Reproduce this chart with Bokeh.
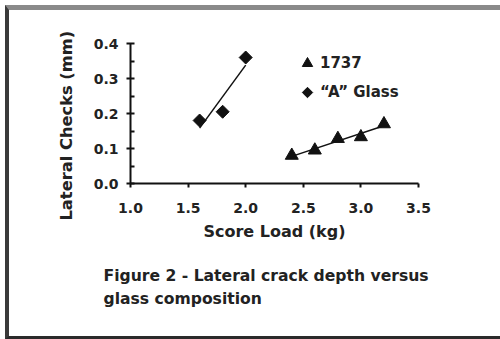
import numpy as np
from bokeh.plotting import figure
from bokeh.layouts import column
from bokeh.models import (FixedTicker, NumeralTickFormatter, Range1d, Title,
                          Legend, LegendItem)
from bokeh.embed import file_html
from bokeh.resources import INLINE

# ---- data ----
a_load = [1.6, 1.8, 2.0]
a_checks = [0.18, 0.205, 0.36]
g1737_load = [2.4, 2.6, 2.8, 3.0, 3.2]
g1737_checks = [0.08, 0.095, 0.128, 0.133, 0.17]
x_ticks = [1.0, 1.5, 2.0, 2.5, 3.0, 3.5]
y_ticks = [0.0, 0.1, 0.2, 0.3, 0.4]
y_minor = [0.05, 0.15, 0.25, 0.35]
series_names = ["1737", "\u201cA\u201d Glass"]
x_title = "Score Load (kg)"
y_title = "Lateral Checks (mm)"
caption = ["Figure 2 - Lateral crack depth versus", "glass composition"]

FONT = "DejaVu Sans"
TXT = "#222222"
INK = "#111111"

fig = figure(width=491, height=326, output_backend="svg", toolbar_location=None,
             x_range=Range1d(1.0, 3.5), y_range=Range1d(0.0, 0.4),
             min_border_left=121, min_border_right=82,
             min_border_top=33, min_border_bottom=153)
fig.outline_line_color = None
fig.grid.visible = False

# axes
fig.xaxis.ticker = FixedTicker(ticks=x_ticks)
fig.yaxis.ticker = FixedTicker(ticks=y_ticks, minor_ticks=y_minor)
fig.xaxis.formatter = NumeralTickFormatter(format="0.0")
fig.yaxis.formatter = NumeralTickFormatter(format="0.0")
for ax in (fig.xaxis, fig.yaxis):
    ax.axis_line_width = 2
    ax.axis_line_color = INK
    ax.major_tick_line_width = 2
    ax.major_tick_line_color = INK
    ax.minor_tick_line_width = 2
    ax.minor_tick_line_color = INK
    ax.major_label_text_font = FONT
    ax.major_label_text_font_style = "bold"
    ax.major_label_text_font_size = "14px"
    ax.major_label_text_color = TXT
    ax.axis_label_text_font = FONT
    ax.axis_label_text_font_style = "bold"
    ax.axis_label_text_font_size = "16px"
    ax.axis_label_text_color = TXT
fig.xaxis.major_tick_out = 4
fig.xaxis.major_tick_in = 0
fig.xaxis.minor_tick_out = 0
fig.xaxis.minor_tick_in = 0
fig.xaxis.major_label_standoff = 15
fig.xaxis.axis_label = x_title
fig.xaxis.axis_label_standoff = 6
fig.yaxis.major_tick_out = 4
fig.yaxis.major_tick_in = 4
fig.yaxis.minor_tick_out = 0
fig.yaxis.minor_tick_in = 4
fig.yaxis.major_label_standoff = 8

# y title, starting below the frame bottom like the reference
fig.add_layout(Title(text=y_title, align="left", offset=-37, standoff=30,
                     text_font=FONT, text_font_style="bold",
                     text_font_size="16.3px", text_color=TXT), "left")

# trend lines (least-squares fits)
for xs, ys in ((a_load, a_checks), (g1737_load, g1737_checks)):
    k, b = np.polyfit(xs, ys, 1)
    fx = [min(xs), max(xs)]
    fig.line(fx, [k * v + b for v in fx], line_color=INK, line_width=1.5)

r1 = fig.scatter(g1737_load, g1737_checks, marker="triangle", size=13,
                 fill_color=INK, line_color=INK)
if hasattr(fig, "ngon"):
    r2 = fig.ngon(a_load, a_checks, radius=6.5, radius_units="screen", n=4,
                  fill_color=INK, line_color=INK)
else:
    r2 = fig.scatter(a_load, a_checks, marker="square", angle=np.pi / 4, size=9,
                     fill_color=INK, line_color=INK)

legend = Legend(items=[LegendItem(label=series_names[0], renderers=[r1]),
                       LegendItem(label=series_names[1], renderers=[r2])],
                location=(164, 78), orientation="vertical",
                glyph_width=26, glyph_height=26, label_height=26,
                label_standoff=0, spacing=3, padding=0, margin=0,
                border_line_color=None, background_fill_alpha=0,
                label_text_font=FONT, label_text_font_style="bold",
                label_text_font_size="15px", label_text_color=TXT)
fig.add_layout(legend)

# two-line caption below the x axis
fig.add_layout(Title(text="\n".join(caption), align="left", offset=-27,
                     standoff=44, text_line_height=1.3,
                     text_font=FONT, text_font_style="bold",
                     text_font_size="15.6px", text_color=TXT), "below")

p = column(fig, margin=(5, 0, 0, 5),
           styles={"box-sizing": "content-box",
                   "vertical-align": "top",
                   "border-left": "4px solid #3a3a3a",
                   "border-top": "5px solid #8a8a8a",
                   "border-bottom": "3px solid #2a2a2a"})

open("out.html", "w").write(file_html(p, INLINE))
